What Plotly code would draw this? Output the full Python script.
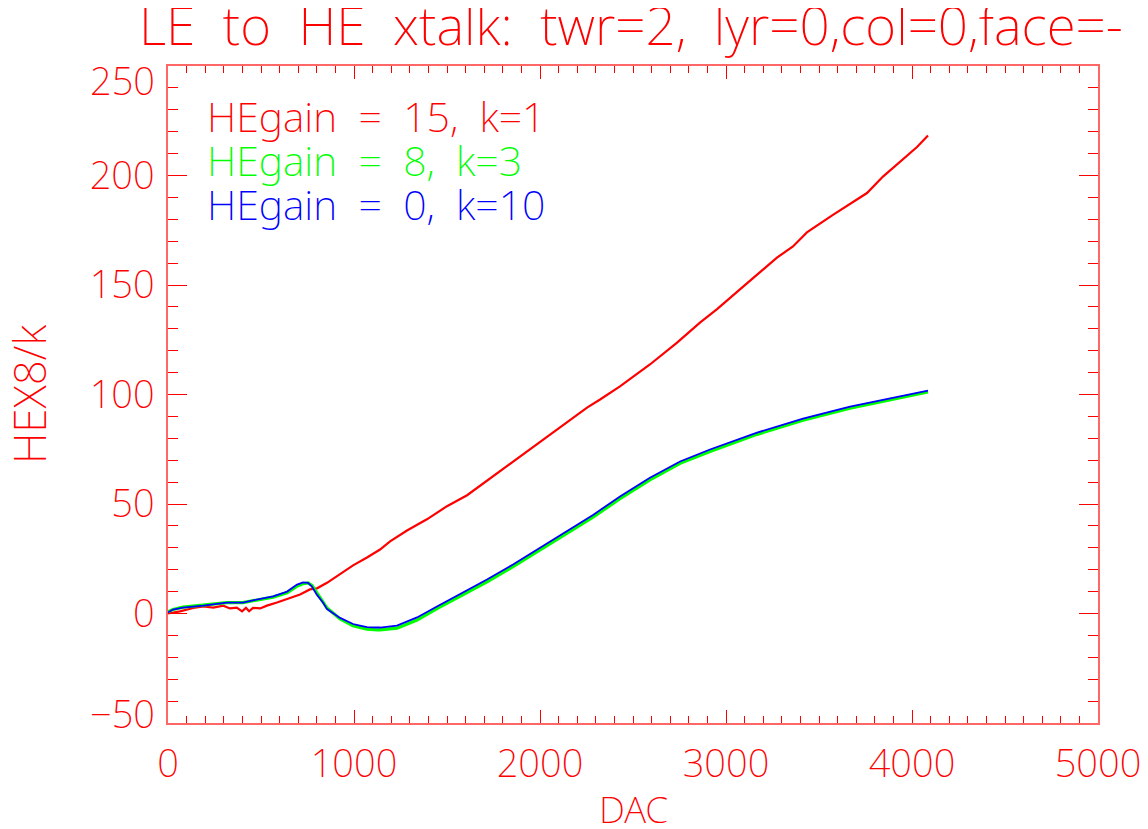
import plotly.graph_objects as go

# ---- data ----
red_dac = [0, 64, 136, 190, 244, 297, 333, 370, 398, 419, 436, 457, 495, 532, 586, 629, 672, 710,
           763, 801, 855, 941, 995, 1070, 1140, 1194, 1285, 1392, 1500, 1608, 1747, 1855, 2000,
           2108, 2253, 2323, 2392, 2430, 2591, 2737, 2860, 2952, 3075, 3183, 3274, 3360, 3435,
           3575, 3758, 3844, 3935, 4027, 4086]
red_val = [0, 1, 2.5, 3.2, 2.7, 3.6, 2.3, 2.7, 1, 2.6, 1, 2.6, 2.3, 3.6, 5, 6.4, 7.6, 8.7,
           11, 11.5, 14, 19, 22, 25.6, 29.2, 32.9, 37.9, 43, 49, 54, 62.6, 69, 78,
           85, 94, 97.7, 101.5, 103.7, 113.7, 123.7, 132.8, 139, 148, 156, 162.5, 167.6, 174,
           182, 192, 199.5, 206, 213, 218.3]

gb_dac = [0, 27, 80, 190, 317, 403, 457, 565, 640, 694, 726, 753, 774, 801, 833, 855, 925, 995,
          1032, 1070, 1124, 1140, 1231, 1339, 1446, 1570, 1715, 1855, 2000, 2145, 2285, 2430,
          2591, 2753, 2914, 3167, 3414, 3667, 3919, 4086]
blue_val = [0.5, 1.8, 2.7, 3.6, 5, 5, 6, 7.8, 10, 13.2, 14.2, 14, 12.3, 8.5, 5, 2, -2, -4.8,
            -5.5, -6.2, -6.4, -6.4, -5.5, -1.8, 3.2, 8.7, 15.5, 22.4, 30, 37.4, 45, 53.4,
            62, 69.4, 74.9, 82.6, 89, 94.5, 99, 101.8]
green_val = [0.8, 1.8, 2.9, 3.8, 5, 5, 5.8, 7.5, 9.5, 12.5, 13.6, 14, 12.8, 9.5, 5.5, 2.5, -2.5, -5.6,
             -6.4, -7.2, -7.5, -7.5, -6.7, -3, 2.2, 7.7, 14.5, 21.4, 29, 36.4, 44, 52.4,
             61, 68.6, 74, 81.8, 88.3, 93.8, 98.4, 101.2]

y_tickvals = [-50, 0, 50, 100, 150, 200, 250]
y_ticklabels = ["\u221250", "0", "50", "100", "150", "200", "250"]
x_tickvals = [0, 1000, 2000, 3000, 4000, 5000]
x_ticklabels = ["0", "1000", "2000", "3000", "4000", "5000"]

legend_labels = ["HEgain  =  15,  k=1", "HEgain  =  8,  k=3", "HEgain  =  0,  k=10"]
colors = ["#ff0000", "#00ff00", "#0000ff"]
title_text = "LE  to  HE  xtalk:  twr=2,  lyr=0,col=0,face=-"
x_title = "DAC"
y_title = "HEX8/k"

FONT = "Noto Sans"
WEIGHT = 200
RED = "#ff0000"


def nb(s):
    # keep the wide word gaps of the original vector font
    return s.replace("  ", "\u00a0\u00a0")


fig = go.Figure()
fig.add_trace(go.Scatter(x=red_dac, y=red_val, mode="lines",
                         line=dict(color=colors[0], width=2.2), showlegend=False))
fig.add_trace(go.Scatter(x=gb_dac, y=green_val, mode="lines",
                         line=dict(color=colors[1], width=3.2), showlegend=False))
fig.add_trace(go.Scatter(x=gb_dac, y=blue_val, mode="lines",
                         line=dict(color=colors[2], width=1.8), showlegend=False))

# page has an 8px body margin, so figure coordinates are screen minus 8
W, H = 1140, 821
L, R, T, B = 160, 1090, 58, 715
TICKFONT = dict(family=FONT, size=38, color=RED, weight=WEIGHT)

axis_common = dict(
    showgrid=False, zeroline=False, showline=True, linecolor="rgba(255,0,0,0.6)", linewidth=1.5,
    mirror="ticks", ticks="inside", tickcolor=RED, tickwidth=1, automargin=False,
    tickfont=TICKFONT,
)

fig.update_xaxes(range=[0, 5000], tickvals=x_tickvals, ticktext=x_ticklabels, ticklen=13,
                 minor=dict(dtick=100, ticklen=7, ticks="inside", tickcolor=RED, tickwidth=1),
                 ticklabelstandoff=7, **axis_common)
# end labels of the y axis are nudged inward (as in the original), drawn as annotations below
y_text_axis = [("" if v in (-50, 250) else t) for v, t in zip(y_tickvals, y_ticklabels)]
fig.update_yaxes(range=[-50, 250], tickvals=y_tickvals, ticktext=y_text_axis, ticklen=19,
                 minor=dict(dtick=10, ticklen=10, ticks="inside", tickcolor=RED, tickwidth=1),
                 ticklabelstandoff=4, **axis_common)


def px2paper(x, y):
    return (x - L) / (R - L), (B - y) / (B - T)


annotations = []
for v, t in zip(y_tickvals, y_ticklabels):
    if v in (-50, 250):
        annotations.append(dict(text=t, x=0, y=v, xref="paper", yref="y",
                                xanchor="right", yanchor="middle", xshift=-11,
                                yshift=(-14 if v == 250 else 10), showarrow=False,
                                font=TICKFONT))

tx, ty = px2paper(623, 17)
annotations.append(dict(text=nb(title_text), x=tx, y=ty, xref="paper", yref="paper",
                        xanchor="center", yanchor="middle", showarrow=False,
                        font=dict(family=FONT, size=53, color=RED, weight=WEIGHT)))
for i, (lab, c) in enumerate(zip(legend_labels, colors)):
    lx, ly = px2paper(197, [108, 152, 196][i])
    annotations.append(dict(text=nb(lab), x=lx, y=ly, xref="paper", yref="paper",
                            xanchor="left", yanchor="middle", showarrow=False,
                            font=dict(family=FONT, size=41, color=c, weight=WEIGHT)))
ax_, ay_ = px2paper(625, 801)
annotations.append(dict(text=x_title, x=ax_, y=ay_, xref="paper", yref="paper",
                        xanchor="center", yanchor="middle", showarrow=False,
                        font=dict(family=FONT, size=37, color=RED, weight=WEIGHT)))
bx, by = px2paper(21, 387)
annotations.append(dict(text=y_title, x=bx, y=by, xref="paper", yref="paper",
                        xanchor="center", yanchor="middle", textangle=-90, showarrow=False,
                        font=dict(family=FONT, size=44, color=RED, weight=WEIGHT)))

fig.update_layout(
    width=W, height=H,
    margin=dict(l=L, r=W - R, t=T, b=H - B, pad=0),
    paper_bgcolor="white", plot_bgcolor="white",
    annotations=annotations,
    showlegend=False,
)

fig.write_html("out.html")
